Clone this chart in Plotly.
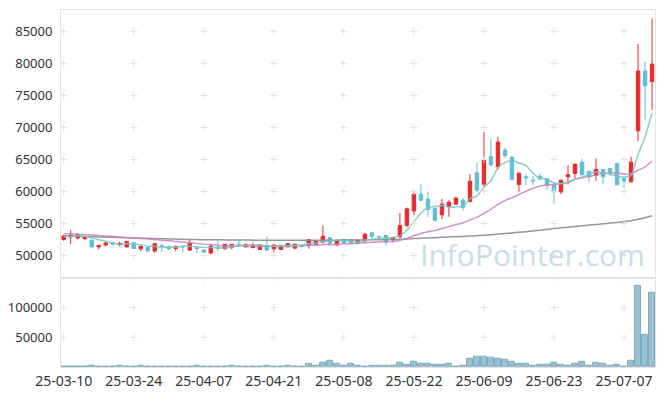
import plotly.graph_objects as go
import pandas as pd

# ---- categories (KRX trading days) ----
holidays = ["2025-05-01", "2025-05-05", "2025-05-06", "2025-06-03", "2025-06-06"]
dates = [d.strftime("%Y-%m-%d") for d in pd.bdate_range("2025-03-10", "2025-07-11")
         if d.strftime("%Y-%m-%d") not in holidays]

# ---- series values ----
open_ = [52500, 52900, 52750, 52650, 52400, 51350, 51650, 52000, 51800, 51350,
         52000, 51050, 51250, 50700, 51500, 51450, 51100, 51450, 50850, 51200,
         50850, 50400, 51250, 51050, 51250, 51750, 51350, 51250, 50950, 51550,
         51050, 50950, 51350, 51150, 51500, 51550, 51750, 52100, 52800, 51650,
         52500, 52500, 51980, 52290, 53540, 52950, 53120, 52500, 52920, 54690,
         56970, 59580, 58800, 57390, 56350, 57700, 58020, 58640, 58450, 62900,
         61140, 65420, 63850, 66450, 65300, 61100, 62300, 61750, 62390, 61970,
         60930, 59940, 62290, 62810, 64580, 63150, 62500, 63430, 63590, 64370,
         62080, 61510, 69470, 78800, 77130]
high = [53200, 53950, 53400, 53000, 52500, 51650, 52100, 52100, 52200, 52300,
        52100, 51550, 51300, 51900, 51870, 51500, 51500, 51550, 52500, 51200,
        50900, 51870, 52500, 51800, 51800, 52500, 51800, 52000, 51700, 53000,
        51700, 51600, 51900, 51800, 51600, 52550, 52300, 54690, 52900, 52500,
        52650, 52550, 52500, 53550, 53550, 53100, 53300, 52900, 56660, 57500,
        60100, 61140, 59900, 57400, 58850, 58640, 59200, 59000, 62700, 64470,
        69270, 68220, 68530, 66800, 65600, 63000, 62700, 62400, 62800, 62000,
        61500, 61800, 64110, 64300, 65100, 63200, 65150, 63450, 63600, 64400,
        62100, 65420, 83020, 80250, 87030]
low = [52300, 51800, 52500, 52400, 51200, 50950, 51400, 51600, 51400, 51200,
       51050, 50700, 50600, 50450, 50550, 50900, 50670, 50500, 50700, 50400,
       50360, 50200, 50700, 50950, 50950, 51350, 51300, 51100, 50900, 50800,
       50520, 50900, 51300, 51000, 51300, 51050, 51500, 51900, 51700, 51500,
       51800, 51800, 51900, 52000, 52500, 52500, 51600, 52000, 52700, 54400,
       56300, 58500, 56040, 55300, 55670, 56030, 57900, 57000, 58300, 59900,
       60700, 63900, 63400, 65200, 61800, 59940, 61000, 61000, 61750, 60310,
       58120, 59580, 61090, 62000, 62500, 61400, 61660, 61140, 62390, 61000,
       60620, 61400, 67810, 71250, 72700]
close = [53050, 53200, 53300, 52900, 51350, 51600, 51950, 51800, 51850, 52200,
         51100, 51450, 50700, 51850, 51450, 51050, 51450, 51350, 51950, 51100,
         50500, 51450, 51150, 51750, 51750, 51600, 51750, 51550, 51650, 50850,
         51650, 51550, 51850, 51750, 51450, 52500, 52300, 53000, 51900, 52300,
         52000, 51870, 52400, 53330, 53020, 52900, 52080, 52810, 54690, 57290,
         59580, 58640, 57190, 55520, 58020, 58330, 58960, 57500, 61610, 60200,
         64900, 64170, 67700, 65630, 61900, 62850, 62100, 61650, 61970, 60930,
         59940, 61770, 62600, 64270, 62600, 62300, 63430, 62280, 62900, 61030,
         61660, 64580, 78800, 76500, 79890]
volume = [600, 500, 400, 500, 2300, 500, 400, 500, 2200, 600,
          1100, 2000, 1100, 1100, 600, 1100, 600, 1100, 600, 2000,
          1100, 1100, 1100, 700, 2500, 600, 1100, 1100, 600, 2200,
          1100, 1100, 2200, 1100, 1100, 5600, 1300, 7900, 10100, 5600,
          2250, 5000, 2250, 300, 2250, 1690, 1690, 2800, 7900, 4500,
          9600, 6200, 6200, 4500, 4500, 6200, 600, 2300, 14600, 18000,
          18000, 16300, 14600, 12800, 9600, 6200, 6200, 2800, 4500, 4500,
          7900, 4500, 2800, 6200, 9600, 2800, 7900, 6200, 2800, 4500,
          1100, 11300, 136000, 53500, 124400]
ma5 = [52950, 53000, 53050, 53000, 52760, 52470, 52220, 51920, 51710, 51880,
       51780, 51680, 51460, 51460, 51310, 51300, 51300, 51430, 51450, 51380,
       51270, 51270, 51230, 51190, 51320, 51540, 51600, 51680, 51660, 51480,
       51490, 51450, 51510, 51530, 51650, 51820, 51970, 52200, 52230, 52400,
       52300, 52210, 52090, 52380, 52520, 52700, 52750, 52830, 53100, 53950,
       55290, 56600, 57480, 57640, 57790, 57540, 57600, 57670, 58880, 59320,
       60630, 61680, 63720, 64520, 64860, 64450, 64040, 62830, 62090, 61900,
       61320, 61250, 61440, 61900, 62240, 62710, 63040, 62980, 62700, 62390,
       62260, 62490, 65790, 68510, 72290]
ma20 = [53400, 53360, 53310, 53260, 53200, 53130, 53060, 52990, 52910, 52830,
        52750, 52660, 52580, 52500, 52400, 52300, 52200, 52100, 52000, 51880,
        51760, 51670, 51560, 51500, 51520, 51520, 51510, 51500, 51490, 51420,
        51450, 51460, 51510, 51510, 51510, 51580, 51620, 51710, 51700, 51760,
        51840, 51860, 51920, 52000, 52060, 52130, 52150, 52210, 52360, 52680,
        53080, 53430, 53700, 53890, 54220, 54510, 54840, 55070, 55550, 55950,
        56590, 57210, 57970, 58590, 59030, 59530, 60030, 60470, 60840, 61020,
        61040, 61190, 61460, 61900, 62130, 62330, 62550, 62790, 62850, 62900,
        62730, 62750, 63310, 63850, 64750]
ma60 = [53050, 53020, 52990, 52960, 52930, 52900, 52870, 52840, 52800, 52770,
        52740, 52710, 52680, 52650, 52620, 52590, 52560, 52530, 52510, 52490,
        52470, 52460, 52450, 52440, 52430, 52420, 52410, 52400, 52400, 52390,
        52390, 52380, 52380, 52380, 52380, 52380, 52390, 52390, 52400, 52400,
        52410, 52420, 52430, 52440, 52450, 52460, 52480, 52500, 52530, 52580,
        52640, 52700, 52750, 52790, 52840, 52890, 52940, 52980, 53030, 53090,
        53150, 53250, 53350, 53440, 53530, 53620, 53720, 53830, 53950, 54080,
        54220, 54330, 54430, 54530, 54640, 54750, 54850, 54950, 55060, 55170,
        55300, 55440, 55650, 55900, 56200]

# ---- tick labels ----
tick_dates = dates[::10]
tick_text = [pd.Timestamp(d).strftime("%y-%m-%d") for d in tick_dates]
price_ticks = [50000, 55000, 60000, 65000, 70000, 75000, 80000, 85000]
volume_ticks = [50000, 100000, 150000]

RED = "#e8292d"
BLUE = "#5fbdd6"
GRID = "#e2e2e2"
AXIS = "#e3e3e3"
TXT = "#333333"
FONT = "Noto Sans"

fig = go.Figure()

# candles
fig.add_trace(go.Candlestick(
    x=dates, open=open_, high=high, low=low, close=close,
    xaxis="x", yaxis="y", whiskerwidth=0,
    increasing=dict(line=dict(color=RED, width=1), fillcolor=RED),
    decreasing=dict(line=dict(color=BLUE, width=1), fillcolor=BLUE),
    showlegend=False))

# volume
fig.add_trace(go.Bar(
    x=dates, y=volume, xaxis="x2", yaxis="y2", width=0.92,
    marker=dict(color="rgba(140,184,204,0.88)", line=dict(color="#7fabc0", width=1)),
    showlegend=False))

# moving averages
for vals, col in [(ma60, "rgba(140,140,140,0.9)"), (ma20, "rgba(200,130,195,0.85)"),
                  (ma5, "rgba(120,200,188,0.85)")]:
    fig.add_trace(go.Scatter(
        x=dates, y=vals, mode="lines", xaxis="x", yaxis="y",
        line=dict(color=col, width=1.5, shape="spline", smoothing=0.6),
        hoverinfo="skip", showlegend=False))

# grid crosses
fig.add_trace(go.Scatter(
    x=[d for d in tick_dates for _ in price_ticks],
    y=[v for _ in tick_dates for v in price_ticks],
    mode="markers", xaxis="x", yaxis="y",
    marker=dict(symbol="cross-thin", size=5, line=dict(color=GRID, width=1)),
    hoverinfo="skip", showlegend=False))
fig.add_trace(go.Scatter(
    x=[d for d in tick_dates for _ in volume_ticks],
    y=[v for _ in tick_dates for v in volume_ticks],
    mode="markers", xaxis="x2", yaxis="y2",
    marker=dict(symbol="cross-thin", size=5, line=dict(color=GRID, width=1)),
    hoverinfo="skip", showlegend=False))

xr = [-0.385, 84.42]
common_x = dict(type="category", categoryorder="array", categoryarray=dates,
                range=xr, showgrid=False, zeroline=False, automargin=False,
                showline=True, mirror=True, linecolor=AXIS, linewidth=1)
common_y = dict(showgrid=False, zeroline=False, showline=True, mirror=True,
                automargin=False,
                linecolor=AXIS, linewidth=1, ticks="outside", ticklen=5,
                tickcolor="rgba(0,0,0,0)", tickfont=dict(family=FONT, size=13, color=TXT))

fig.update_layout(
    width=665, height=396,
    margin=dict(l=61, r=10, t=10, b=29, autoexpand=False),
    paper_bgcolor="white", plot_bgcolor="white",
    showlegend=False,
    xaxis=dict(**common_x, anchor="y", domain=[0, 1], showticklabels=False,
               rangeslider=dict(visible=False)),
    yaxis=dict(**common_y, domain=[0.25, 1], range=[46530, 88330],
               tickvals=price_ticks, ticktext=[str(v) for v in price_ticks]),
    xaxis2=dict(**common_x, anchor="y2", domain=[0, 1],
                tickvals=tick_dates, ticktext=tick_text, tickangle=0,
                ticks="outside", ticklen=1, tickcolor="rgba(0,0,0,0)",
                tickfont=dict(family=FONT, size=14, color=TXT)),
    yaxis2=dict(**common_y, domain=[0, 0.25], range=[0, 150000],
                tickvals=[50000, 100000], ticktext=["50000", "100000"]),
    bargap=0,
    annotations=[dict(text="InfoPointer.com", xref="paper", yref="paper",
                      x=0.986, y=0.316, xanchor="right", yanchor="middle",
                      showarrow=False,
                      font=dict(family="Open Sans", size=30, color="#cbdce7"))],
)

fig.write_html("out.html", config={"displayModeBar": False},
               post_script="document.body.style.margin='0';document.body.style.padding='0';")
